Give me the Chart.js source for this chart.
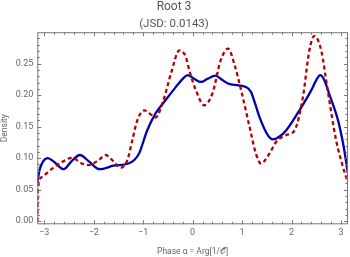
<!DOCTYPE html>
<html>
<head>
<meta charset="utf-8">
<script src="https://cdn.jsdelivr.net/npm/chart.js@4/dist/chart.umd.min.js"></script>
<style>
  html, body { margin: 0; padding: 0; background: #fff; }
  #wrap { width: 350px; height: 257px; }
</style>
</head>
<body>
<div id="wrap"><canvas id="chart" width="350" height="257"></canvas></div>
<script>
// root 3 density estimates (phase in radians)
var blueX = [-3.1416, -3.10, -3.03, -2.93, -2.80, -2.61, -2.45, -2.28, -2.10, -1.88,
    -1.60, -1.30, -1.18, -1.08, -0.92, -0.75, -0.55, -0.35, -0.20, -0.10,
    0.03, 0.17, 0.30, 0.46, 0.60, 0.75, 1.08, 1.18, 1.27, 1.35,
    1.52, 1.62, 1.75, 1.89, 2.16, 2.40, 2.50, 2.58, 2.65, 2.77,
    2.94, 3.05, 3.1416];
var blueY = [0.060, 0.080, 0.094, 0.100, 0.094, 0.0825, 0.095, 0.105, 0.095, 0.0825,
    0.088, 0.0915, 0.097, 0.108, 0.144, 0.171, 0.192, 0.212, 0.226, 0.232,
    0.226, 0.221, 0.226, 0.231, 0.224, 0.2175, 0.213, 0.205, 0.185, 0.1656,
    0.1365, 0.1297, 0.134, 0.144, 0.176, 0.208, 0.224, 0.232, 0.226, 0.200,
    0.160, 0.120, 0.075];

var redX = [-3.1416, -3.13, -3.05, -2.84, -2.64, -2.44, -2.24, -2.10, -1.90, -1.76,
    -1.59, -1.46, -1.32, -1.22, -1.12, -0.98, -0.82, -0.75, -0.58, -0.44,
    -0.27, -0.14, -0.07, 0.065, 0.233, 0.40, 0.57, 0.72, 0.84, 0.98,
    1.15, 1.28, 1.38, 1.55, 1.69, 1.89, 2.06, 2.23, 2.36, 2.46,
    2.60, 2.73, 2.90, 3.04, 3.1416];
var redY = [0.0, 0.050, 0.070, 0.0835, 0.094, 0.1005, 0.0915, 0.089, 0.097, 0.105,
    0.094, 0.0846, 0.097, 0.1286, 0.160, 0.176, 0.168, 0.1646, 0.195, 0.234,
    0.271, 0.261, 0.240, 0.208, 0.184, 0.203, 0.256, 0.274, 0.250, 0.208,
    0.150, 0.107, 0.0915, 0.107, 0.126, 0.1365, 0.144, 0.197, 0.271, 0.294,
    0.271, 0.208, 0.129, 0.086, 0.060];

var xTicks = [-3, -2, -1, 0, 1, 2, 3];
var yTicks = [0, 0.05, 0.10, 0.15, 0.20, 0.25];

function pts(xs, ys) {
    var out = [];
    for (let i = 0; i < xs.length; i++) out.push({x: xs[i], y: ys[i]});
    return out;
}

var grey = '#666666';

// frame with inward ticks, like the original plot
var framePlugin = {
    id: 'frame',
    afterDatasetsDraw(chart) {
        var ctx = chart.ctx, a = chart.chartArea;
        var xs = chart.scales.x, ys = chart.scales.y;
        ctx.save();
        ctx.strokeStyle = '#777';
        ctx.lineWidth = 1;
        ctx.strokeRect(a.left + 0.5, a.top + 0.5, a.right - a.left - 1, a.bottom - a.top - 1);
        ctx.beginPath();
        for (let v = -3.2; v <= 3.2001; v += 0.2) {
            var major = Math.abs(v - Math.round(v)) < 1e-6;
            var len = major ? 4 : 2.5;
            var px = Math.round(xs.getPixelForValue(v)) + 0.5;
            if (px < a.left || px > a.right) continue;
            ctx.moveTo(px, a.bottom); ctx.lineTo(px, a.bottom - len);
            ctx.moveTo(px, a.top); ctx.lineTo(px, a.top + len);
        }
        for (let i = 0; i <= 29; i++) {
            var v2 = i * 0.01;
            var major2 = i % 5 === 0;
            var len2 = major2 ? 4 : 2.5;
            var py = Math.round(ys.getPixelForValue(v2)) + 0.5;
            ctx.moveTo(a.left, py); ctx.lineTo(a.left + len2, py);
            ctx.moveTo(a.right, py); ctx.lineTo(a.right - len2, py);
        }
        ctx.stroke();
        ctx.restore();
    }
};

new Chart(document.getElementById('chart'), {
    type: 'line',
    data: {
        datasets: [{
            data: pts(redX, redY),
            borderColor: 'rgb(180,0,0)',
            borderWidth: 2.3,
            borderDash: [4, 3],
            pointRadius: 0,
            cubicInterpolationMode: 'monotone',
            fill: false
        }, {
            data: pts(blueX, blueY),
            borderColor: 'rgb(0,0,175)',
            borderWidth: 2.3,
            pointRadius: 0,
            cubicInterpolationMode: 'monotone',
            fill: false
        }]
    },
    options: {
        responsive: false,
        animation: false,
        layout: {padding: {left: 0, right: 2, top: 0, bottom: 0}},
        plugins: {
            legend: {display: false},
            tooltip: {enabled: false},
            title: {
                display: true,
                text: 'Root 3',
                color: '#555',
                font: {family: 'Roboto', size: 12, weight: 'normal'},
                padding: {top: 0, bottom: 3}
            },
            subtitle: {
                display: true,
                text: '(JSD: 0.0143)',
                color: '#555',
                font: {family: 'Roboto', size: 11.5, weight: 'normal'},
                padding: {top: 0, bottom: 1}
            }
        },
        scales: {
            x: {
                type: 'linear',
                min: -Math.PI,
                max: Math.PI,
                grid: {display: false, drawTicks: false},
                border: {display: false},
                afterBuildTicks: s => { s.ticks = xTicks.map(v => ({value: v})); },
                afterFit: s => { s.height = 32.7; },
                ticks: {
                    color: grey,
                    padding: 3,
                    font: {family: 'Roboto', size: 9},
                    callback: v => (v < 0 ? '\u2212' + Math.abs(v) : String(v))
                },
                title: {
                    display: true,
                    text: 'Phase \u03b1 = Arg[1/\ud835\udcaa]',
                    color: grey,
                    font: {family: 'Roboto', size: 8.5},
                    padding: {top: 4, bottom: 0}
                }
            },
            y: {
                type: 'linear',
                min: -0.005,
                max: 0.3,
                grid: {display: false, drawTicks: false},
                border: {display: false},
                afterBuildTicks: s => { s.ticks = yTicks.map(v => ({value: v})); },
                afterFit: s => { s.width = 37.3; },
                ticks: {
                    color: grey,
                    padding: 4,
                    font: {family: 'Roboto', size: 9},
                    callback: v => v.toFixed(2)
                },
                title: {
                    display: true,
                    text: 'Density',
                    color: grey,
                    font: {family: 'Roboto', size: 8.5},
                    padding: {top: 0, bottom: 0}
                }
            }
        }
    },
    plugins: [framePlugin]
});
</script>
</body>
</html>
